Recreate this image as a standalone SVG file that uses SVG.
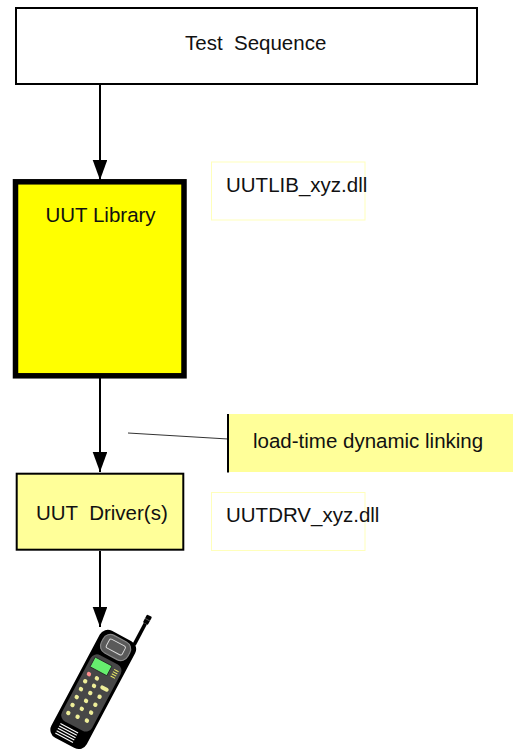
<svg xmlns="http://www.w3.org/2000/svg" width="513" height="752" viewBox="0 0 513 752">
  <defs>
    <style>
      .lbl { font-family: "Liberation Sans", Arial, sans-serif; font-size: 20.5px; fill: #111; white-space: pre; }
      .flow { stroke: #000; stroke-width: 2; fill: none; marker-end: url(#arrow); }
      .dllbox { fill: #fff; stroke: #ffffbb; stroke-width: 1; }
      .key { fill: #eeee99; }
    </style>
    <marker id="arrow" markerUnits="userSpaceOnUse" markerWidth="20" markerHeight="15" refX="20" refY="7.3" orient="auto">
      <path d="M0,0 L20,7.3 L0,14.6 Z" fill="#000"/>
    </marker>
  </defs>

  <rect width="513" height="752" fill="#fff"/>

  <!-- connectors -->
  <g id="connectors">
    <line class="flow" x1="100" y1="84" x2="100" y2="180"/>
    <line class="flow" x1="100" y1="378" x2="100" y2="472"/>
    <line class="flow" x1="100" y1="551" x2="100" y2="627"/>
    <line x1="128" y1="433" x2="228" y2="439" stroke="#333" stroke-width="1"/>
  </g>

  <g id="test-sequence">
    <rect x="16" y="8" width="461" height="76" fill="#fff" stroke="#000" stroke-width="2"/>
    <text class="lbl" x="185" y="49.5" xml:space="preserve">Test  Sequence</text>
  </g>

  <g id="uut-library">
    <rect x="15.5" y="181.8" width="168.5" height="194" fill="#ffff00" stroke="#000" stroke-width="5.5"/>
    <text class="lbl" x="45.5" y="221.7">UUT Library</text>
  </g>

  <g id="uutlib-dll">
    <rect class="dllbox" x="211.5" y="162" width="153.5" height="58"/>
    <text class="lbl" x="226" y="191.7">UUTLIB_xyz.dll</text>
  </g>

  <g id="linking-note">
    <rect x="228" y="414" width="290" height="58" fill="#ffff99"/>
    <line x1="228" y1="414" x2="228" y2="472.5" stroke="#000" stroke-width="2"/>
    <text class="lbl" x="253" y="448.3">load-time dynamic linking</text>
  </g>

  <g id="uut-driver">
    <rect x="16.7" y="473.7" width="166.6" height="76" fill="#ffff99" stroke="#000" stroke-width="2"/>
    <text class="lbl" x="36" y="520" xml:space="preserve">UUT  Driver(s)</text>
  </g>

  <g id="uutdrv-dll">
    <rect class="dllbox" x="211.5" y="492.5" width="153.5" height="58"/>
    <text class="lbl" x="226" y="522.3">UUTDRV_xyz.dll</text>
  </g>

  <!-- handset, drawn upright and tilted -->
  <g id="handset" transform="translate(93.5,689) rotate(28)">
    <!-- antenna -->
    <rect x="13.3" y="-82" width="3.6" height="24" fill="#000"/>
    <rect x="12.3" y="-91" width="5.6" height="9" rx="1" fill="#000"/>
    <line x1="12.3" y1="-86.5" x2="17.9" y2="-86.5" stroke="#666" stroke-width="0.8"/>
    <!-- body -->
    <rect x="-20" y="-60" width="40" height="121" rx="9" fill="#000"/>
    <!-- earpiece -->
    <rect x="-15" y="-57" width="30" height="20" rx="8" fill="#5a5a5a" stroke="#888" stroke-width="1.2"/>
    <rect x="-9" y="-52.5" width="18" height="10" rx="2" fill="none" stroke="#ddd" stroke-width="0.9"/>
    <!-- keypad panel -->
    <rect x="-17" y="-33" width="34" height="75" rx="7" fill="#474747"/>
    <!-- display -->
    <rect x="-13.5" y="-29" width="19" height="11" fill="#66ee6e" stroke="#222" stroke-width="0.8"/>
    <g stroke="#eeee66" stroke-width="1">
      <line x1="9" y1="-27" x2="14" y2="-27"/>
      <line x1="9" y1="-24.5" x2="14" y2="-24.5"/>
      <line x1="9" y1="-22" x2="14" y2="-22"/>
      <line x1="9" y1="-19.5" x2="14" y2="-19.5"/>
    </g>
    <!-- keys -->
    <circle cx="-11" cy="-11" r="2.2" fill="#ff8c8c"/>
    <circle class="key" cx="-2" cy="-11" r="2.2"/>
    <rect class="key" x="5" y="-7.5" width="9" height="4" rx="2"/>
    <circle class="key" cx="-11" cy="-3" r="2.2"/>
    <circle class="key" cx="-1" cy="-3" r="2.2"/>
    <circle class="key" cx="-11" cy="6" r="2.2"/>
    <circle class="key" cx="-1" cy="5" r="2.2"/>
    <circle class="key" cx="9" cy="4" r="2.2"/>
    <circle class="key" cx="-11" cy="15" r="2.2"/>
    <circle class="key" cx="-1" cy="14" r="2.2"/>
    <circle class="key" cx="9" cy="13" r="2.2"/>
    <circle class="key" cx="-11" cy="24" r="2.2"/>
    <circle class="key" cx="-1" cy="23" r="2.2"/>
    <circle class="key" cx="9" cy="22" r="2.2"/>
    <circle class="key" cx="-11" cy="33" r="2.2"/>
    <circle class="key" cx="-1" cy="32" r="2.2"/>
    <circle class="key" cx="9" cy="31" r="2.2"/>
    <!-- mouthpiece grille -->
    <g stroke="#fff" stroke-width="1.1">
      <line x1="-13" y1="46" x2="7" y2="46"/>
      <line x1="-13" y1="48.7" x2="7" y2="48.7"/>
      <line x1="-13" y1="51.4" x2="7" y2="51.4"/>
      <line x1="-13" y1="54.1" x2="7" y2="54.1"/>
      <line x1="-13" y1="56.8" x2="7" y2="56.8"/>
    </g>
  </g>
</svg>
